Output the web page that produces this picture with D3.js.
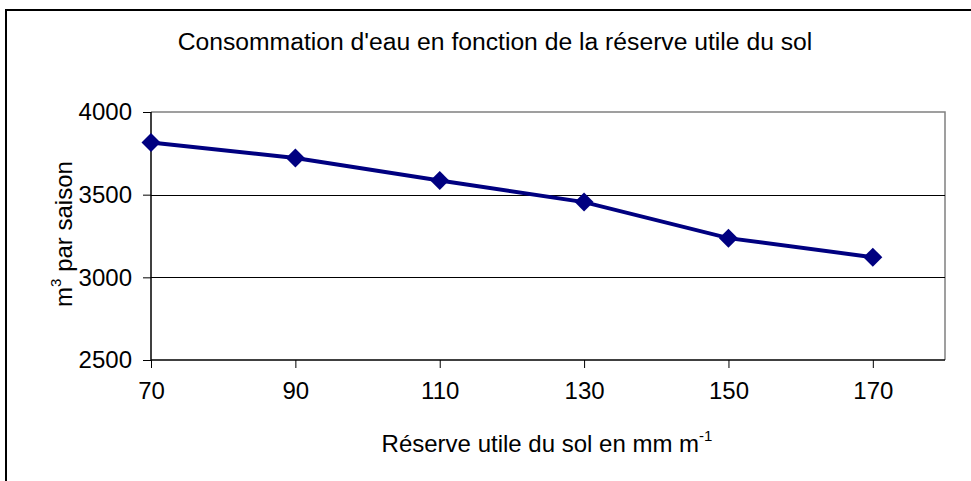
<!DOCTYPE html>
<html><head><meta charset="utf-8">
<script src="https://cdn.jsdelivr.net/npm/d3@7"></script>
<style>body{margin:0;background:#fff;} svg{display:block;font-family:"Liberation Sans",Arial,sans-serif;}</style>
</head><body>
<svg id="c" width="971" height="481"></svg>
<script>
const reserve = [70, 90, 110, 130, 150, 170];
const consommation = [3815, 3722, 3586, 3455, 3237, 3122];
const xTicks = [70, 90, 110, 130, 150, 170];
const yTicks = [2500, 3000, 3500, 4000];
const titleText = "Consommation d'eau en fonction de la réserve utile du sol";

const svg = d3.select("#c");
const L = 151, R = 945, T = 112, B = 360;
const x = d3.scaleLinear().domain([70, 180]).range([L, R]);
const y = d3.scaleLinear().domain([2500, 4000]).range([B, T]);

// outer frame
svg.append("rect").attr("x", 6).attr("y", 10).attr("width", 1000).attr("height", 500)
  .attr("fill", "none").attr("stroke", "#000").attr("stroke-width", 2);

// plot border (gray top/right)
svg.append("path").attr("d", `M${L},${T}H${R}V${B}`).attr("fill", "none")
  .attr("stroke", "#808080").attr("stroke-width", 1.5);

// gridlines
svg.append("g").selectAll("line").data(yTicks.filter(v => v > 2500 && v < 4000)).join("line")
  .attr("x1", L).attr("x2", R).attr("y1", d => Math.round(y(d)) + 0.5).attr("y2", d => Math.round(y(d)) + 0.5)
  .attr("stroke", "#000").attr("stroke-width", 1);

// axes
const yAxis = d3.axisLeft(y).tickValues(yTicks).tickSize(8).tickPadding(11).tickFormat(d3.format("d"));
const gy = svg.append("g").attr("transform", `translate(${L},0)`).call(yAxis);
const xAxis = d3.axisBottom(x).tickValues(xTicks).tickSize(8).tickPadding(14).tickFormat(d3.format("d"));
const gx = svg.append("g").attr("transform", `translate(0,${B})`).call(xAxis);
[gx, gy].forEach(g => {
  g.select(".domain").attr("stroke", "#000").attr("stroke-width", 1.5);
  g.selectAll(".tick line").attr("stroke", "#000").attr("stroke-width", 1);
  g.selectAll(".tick text").attr("fill", "#000").attr("font-size", 24)
   .attr("font-family", "Liberation Sans, Arial, sans-serif");
});
gx.select(".domain").attr("d", `M${L},0H${R}`);
gy.select(".domain").attr("d", `M0,${T}V${B}`);

// line
const pts = reserve.map((r, i) => [r, consommation[i]]);
svg.append("path").datum(pts)
  .attr("d", d3.line().x(d => x(d[0])).y(d => y(d[1])))
  .attr("fill", "none").attr("stroke", "#000080").attr("stroke-width", 4);

svg.append("g").selectAll("path").data(pts).join("path")
  .attr("d", d3.symbol().type(d3.symbolSquare).size(180))
  .attr("transform", d => `translate(${x(d[0])},${y(d[1])}) rotate(45)`)
  .attr("fill", "#000080");

// title
svg.append("text").attr("x", 495).attr("y", 50).attr("text-anchor", "middle")
  .attr("font-size", 24.7).text(titleText);

// x label
const xl = svg.append("text").attr("x", 547).attr("y", 452).attr("text-anchor", "middle").attr("font-size", 24);
xl.append("tspan").text("Réserve utile du sol en mm m");
xl.append("tspan").attr("dy", -11).attr("font-size", 15).text("-1");

// y label
const yl = svg.append("text").attr("transform", "translate(72,234) rotate(-90)")
  .attr("text-anchor", "middle").attr("font-size", 24);
yl.append("tspan").text("m");
yl.append("tspan").attr("dy", -11).attr("font-size", 15).text("3");
yl.append("tspan").attr("dy", 11).text(" par saison");
</script>
</body></html>
